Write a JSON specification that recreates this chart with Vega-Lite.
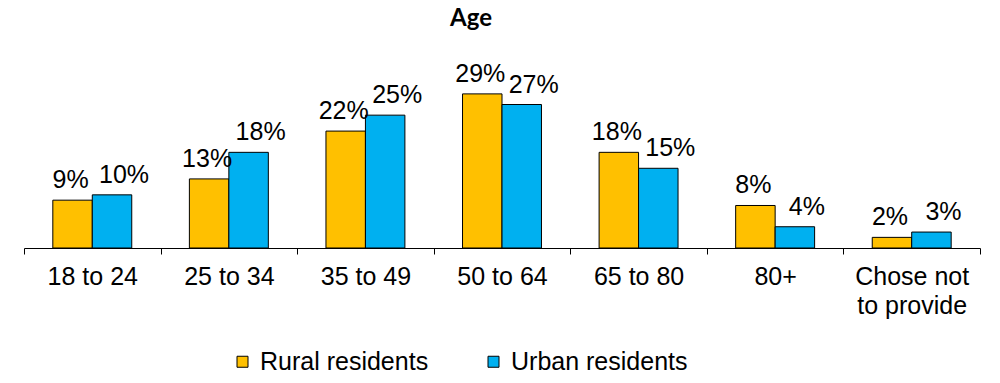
{
  "$schema": "https://vega.github.io/schema/vega-lite/v6.json",
  "autosize": {"type": "none"},
  "width": 956,
  "height": 186,
  "padding": {"left": 24, "top": 62, "right": 20, "bottom": 135},
  "background": "white",
  "config": {"view": {"stroke": null}},
  "title": {
    "text": "Age",
    "font": "Lato",
    "fontWeight": "bold",
    "fontSize": 24,
    "color": "black",
    "anchor": "middle",
    "dx": -31,
    "offset": 31
  },
  "data": {
    "values": [
      {"age": "18 to 24", "group": "Rural residents", "share": 0.09},
      {"age": "18 to 24", "group": "Urban residents", "share": 0.10},
      {"age": "25 to 34", "group": "Rural residents", "share": 0.13},
      {"age": "25 to 34", "group": "Urban residents", "share": 0.18},
      {"age": "35 to 49", "group": "Rural residents", "share": 0.22},
      {"age": "35 to 49", "group": "Urban residents", "share": 0.25},
      {"age": "50 to 64", "group": "Rural residents", "share": 0.29},
      {"age": "50 to 64", "group": "Urban residents", "share": 0.27},
      {"age": "65 to 80", "group": "Rural residents", "share": 0.18},
      {"age": "65 to 80", "group": "Urban residents", "share": 0.15},
      {"age": "80+", "group": "Rural residents", "share": 0.08},
      {"age": "80+", "group": "Urban residents", "share": 0.04},
      {"age": "Chose not to provide", "group": "Rural residents", "share": 0.02},
      {"age": "Chose not to provide", "group": "Urban residents", "share": 0.03}
    ]
  },
  "encoding": {
    "x": {
      "field": "age",
      "type": "nominal",
      "sort": null,
      "scale": {"paddingInner": 0, "paddingOuter": 0},
      "axis": {
        "title": null,
        "labelAngle": 0,
        "tickBand": "extent",
        "domainColor": "black",
        "tickColor": "black",
        "tickSize": 6,
        "labelFont": "Liberation Sans",
        "labelFontSize": 25,
        "labelColor": "black",
        "labelPadding": 10,
        "labelLineHeight": 29,
        "labelExpr": "datum.label == 'Chose not to provide' ? ['Chose not', 'to provide'] : datum.label"
      }
    },
    "xOffset": {
      "field": "group",
      "type": "nominal",
      "scale": {"paddingInner": 0, "paddingOuter": 0.73}
    },
    "y": {
      "field": "share",
      "type": "quantitative",
      "scale": {"domain": [0, 0.35]},
      "axis": null
    }
  },
  "layer": [
    {
      "mark": {"type": "bar", "stroke": "black", "strokeWidth": 1},
      "encoding": {
        "color": {
          "field": "group",
          "type": "nominal",
          "scale": {"domain": ["Rural residents", "Urban residents"], "range": ["#FFC000", "#00B0F0"]},
          "legend": {
            "title": null,
            "orient": "none",
            "direction": "horizontal",
            "legendX": 206,
            "legendY": 287,
            "symbolType": "square",
            "symbolSize": 121,
            "symbolStrokeColor": "black",
            "symbolStrokeWidth": 1,
            "labelFont": "Liberation Sans",
            "labelFontSize": 25,
            "labelColor": "black",
            "labelLimit": 400,
            "columnPadding": 52,
            "labelOffset": 5
          }
        }
      }
    },
    {
      "transform": [{"filter": "datum.group == 'Rural residents'"}],
      "mark": {
        "type": "text",
        "baseline": "alphabetic",
        "dy": -12,
        "dx": -2,
        "font": "Liberation Sans",
        "fontSize": 25,
        "color": "black"
      },
      "encoding": {
        "text": {"field": "share", "type": "quantitative", "format": ".0%"}
      }
    },
    {
      "transform": [{"filter": "datum.group == 'Urban residents'"}],
      "mark": {
        "type": "text",
        "baseline": "alphabetic",
        "dy": -12,
        "dx": 12,
        "font": "Liberation Sans",
        "fontSize": 25,
        "color": "black"
      },
      "encoding": {
        "text": {"field": "share", "type": "quantitative", "format": ".0%"}
      }
    }
  ]
}
